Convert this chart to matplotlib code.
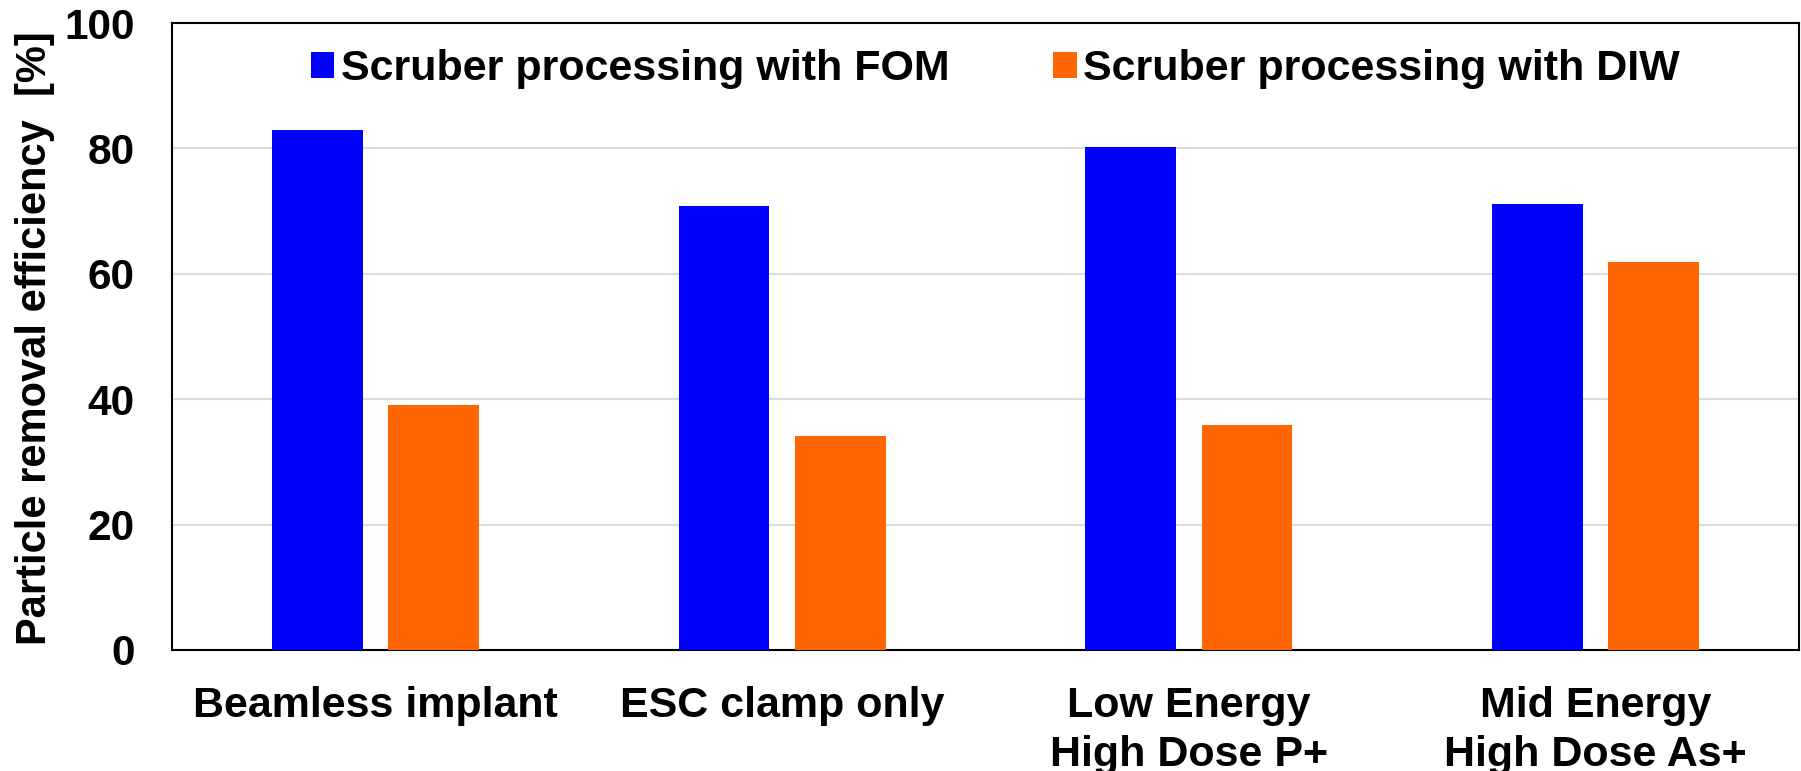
import numpy as np
import matplotlib
matplotlib.use('Agg')
import matplotlib.pyplot as plt

# Data
ls_categories = ['Beamless implant', 'ESC clamp only',
                 'Low Energy\nHigh Dose P+', 'Mid Energy\nHigh Dose As+']
ar_fom = [82.9, 70.9, 80.2, 71.2]
ar_diw = [39.0, 34.1, 35.9, 61.9]
ls_series = ['Scruber processing with FOM', 'Scruber processing with DIW']
ls_colors = ['#0000FF', '#FF6600']
ar_yticks = [0, 20, 40, 60, 80, 100]

plt.rcParams['font.family'] = ['Liberation Sans', 'DejaVu Sans']
plt.rcParams['font.weight'] = 'bold'

fig = plt.figure(figsize=(18.01, 7.71), dpi=100)
ax = fig.add_axes([0.0955, 0.157, 0.9034, 0.813])

ar_x = np.arange(len(ls_categories))
fl_width = 0.223
fl_offset = 0.1427
ax.bar(ar_x - fl_offset, ar_fom, width=fl_width, color=ls_colors[0],
       label=ls_series[0], zorder=3)
ax.bar(ar_x + fl_offset, ar_diw, width=fl_width, color=ls_colors[1],
       label=ls_series[1], zorder=3)

# Axes and grid
ax.set_xlim(-0.5, len(ls_categories) - 0.5)
ax.set_ylim(0, 100)
ax.set_yticks(ar_yticks)
ax.set_yticklabels([str(v) for v in ar_yticks], fontsize=30.5, fontweight='bold')
ax.set_xticks(ar_x)
ax.set_xticklabels(ls_categories, fontsize=31, fontweight='bold',
                   linespacing=1.3)
ax.tick_params(axis='both', length=0)
ax.tick_params(axis='y', pad=27)
ax.tick_params(axis='x', pad=26)
ax.yaxis.grid(True, color='#dcdcdc', linewidth=1.5, zorder=0)
ax.set_axisbelow(True)
for sp in ax.spines.values():
    sp.set_linewidth(1.5)
    sp.set_color('black')

ax.set_ylabel('Particle removal efficiency  [%]', fontsize=30, fontweight='bold')
ax.yaxis.set_label_coords(-0.072, 0.498)

ax.legend(loc='upper center', ncol=2, frameon=False, fontsize=31,
          handlelength=0.55, handleheight=0.55, handletextpad=0.15,
          columnspacing=2.4, borderaxespad=0.2, bbox_to_anchor=(0.506, 1.0))

fig.savefig('out.png', dpi=100)
